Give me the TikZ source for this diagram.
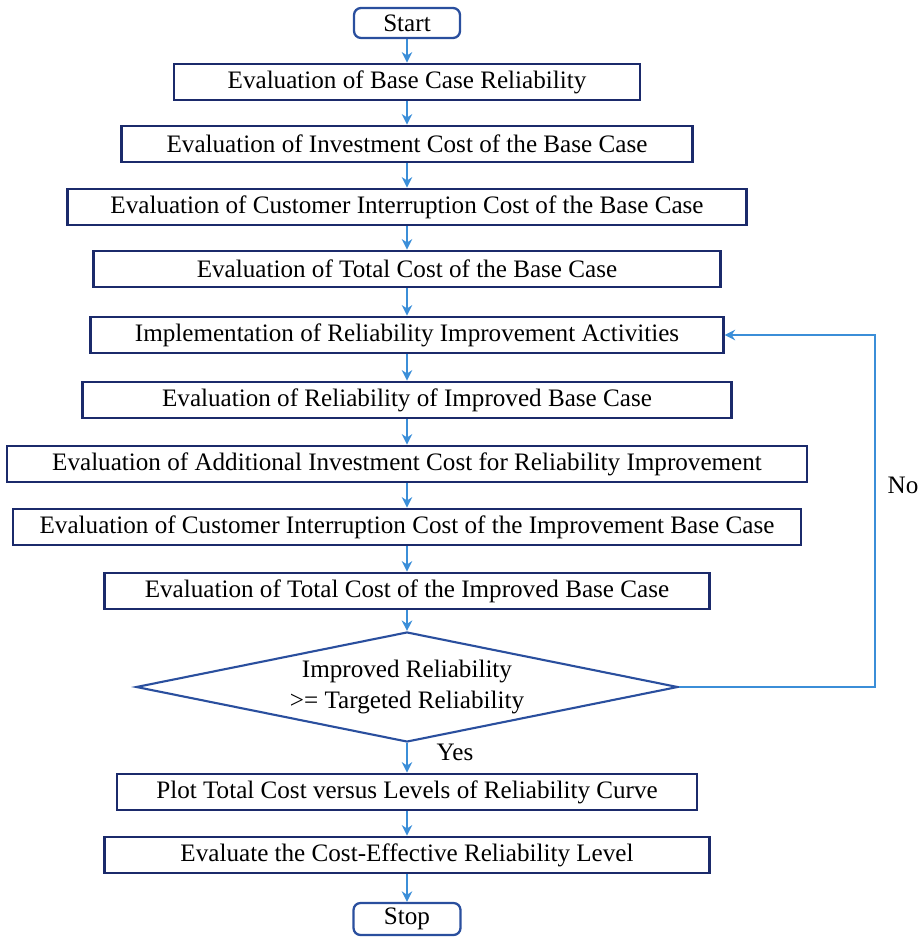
\documentclass[tikz,border=0pt]{standalone}
\usepackage{fontspec}
\setmainfont{Liberation Serif}
\usetikzlibrary{shapes.geometric,arrows.meta}
\definecolor{navy}{HTML}{1B2A6B}
\definecolor{rblue}{HTML}{2A4F9E}
\definecolor{flowblue}{HTML}{3B8ED8}
\tikzset{
  stepbox/.style={draw=navy,line width=1.3pt,minimum height=0.73cm,inner sep=0pt,
    font=\fontsize{14.3}{16}\selectfont},
  termbox/.style={draw=rblue,line width=1.3pt,rounded corners=4pt,inner sep=0pt,
    font=\fontsize{14.3}{16}\selectfont},
  decbox/.style={draw=rblue,line width=1.2pt,diamond,aspect=5,inner sep=0pt,
    align=center,font=\fontsize{14.3}{17.5}\selectfont},
  flow/.style={draw=flowblue,line width=1.1pt,-{Stealth[length=6pt,width=6pt]}},
}
\def\cx{407}
\begin{document}
\begin{tikzpicture}[x=0.02cm,y=-0.02cm]
    \useasboundingbox (0,0) rectangle (921,939);
    \node[termbox,minimum width=2.12cm,minimum height=0.6cm] (start) at (\cx,23) {Start};
    \node[stepbox,minimum width=9.32cm]  (b1) at (\cx,82)  {Evaluation of Base Case Reliability};
    \node[stepbox,minimum width=11.42cm] (b2) at (\cx,144) {Evaluation of Investment Cost of the Base Case};
    \node[stepbox,minimum width=13.58cm] (b3) at (\cx,207) {Evaluation of Customer Interruption Cost of the Base Case};
    \node[stepbox,minimum width=12.54cm] (b4) at (\cx,269) {Evaluation of Total Cost of the Base Case};
    \node[stepbox,minimum width=12.66cm] (b5) at (\cx,335) {Implementation of Reliability Improvement Activities};
    \node[stepbox,minimum width=12.98cm] (b6) at (\cx,400) {Evaluation of Reliability of Improved Base Case};
    \node[stepbox,minimum width=16.0cm]  (b7) at (\cx,464) {Evaluation of Additional Investment Cost for Reliability Improvement};
    \node[stepbox,minimum width=15.76cm] (b8) at (\cx,527) {Evaluation of Customer Interruption Cost of the Improvement Base Case};
    \node[stepbox,minimum width=12.1cm]  (b9) at (\cx,591) {Evaluation of Total Cost of the Improved Base Case};
    \node[decbox,minimum width=10.84cm,minimum height=2.2cm] (dec) at (\cx,687)
        {Improved Reliability\\>= Targeted Reliability};
    \node[stepbox,minimum width=11.6cm]  (b10) at (\cx,792) {Plot Total Cost versus Levels of Reliability Curve};
    \node[stepbox,minimum width=12.1cm]  (b11) at (\cx,855) {Evaluate the Cost-Effective Reliability Level};
    \node[termbox,minimum width=2.14cm,minimum height=0.64cm] (stop) at (\cx,919) {Stop};

    % main flow
    \foreach \a/\b in {start/b1,b1/b2,b2/b3,b3/b4,b4/b5,b5/b6,b6/b7,b7/b8,b8/b9,b9/dec,dec/b10,b10/b11,b11/stop}
        \draw[flow] (\a) -- (\b);

    % loop back
    \coordinate (back) at (875,500);
    \draw[flow] (dec.east) -| (back) |- (b5.east);
    \node[font=\fontsize{14.3}{16}\selectfont] (no) at (903,485) {No};
    \node[font=\fontsize{14.3}{16}\selectfont] (yes) at (455,752) {Yes};
\end{tikzpicture}
\end{document}
